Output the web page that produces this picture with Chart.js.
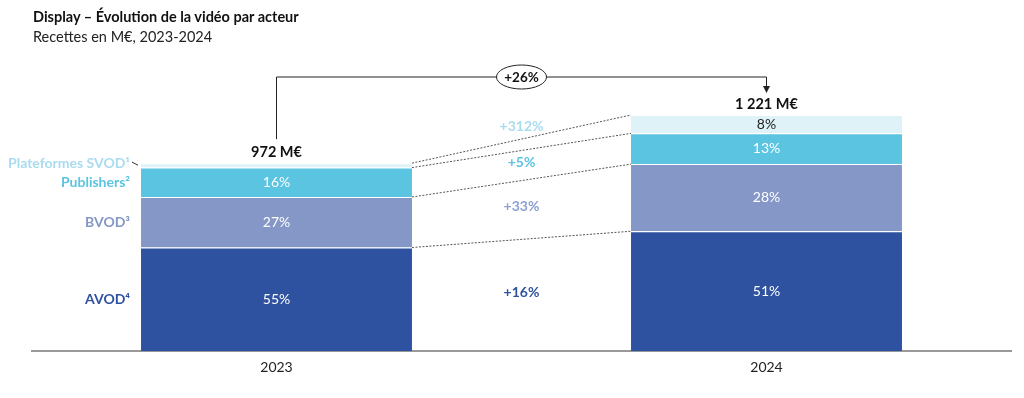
<!DOCTYPE html>
<html lang="fr">
<head>
    <meta charset="UTF-8">
    <title>Display – Évolution de la vidéo par acteur</title>
    <script src="https://cdn.jsdelivr.net/npm/chart.js"></script>
    <style>
        body { margin: 0; background: #fff; font-family: Lato, sans-serif; }
        #wrap { position: relative; width: 1024px; height: 398px; }
        #title { position: absolute; left: 33px; top: 8px; font-size: 14.5px; font-weight: bold; color: #111; }
        #subtitle { position: absolute; left: 33px; top: 28px; font-size: 14.5px; color: #222; }
        #chart { position: absolute; left: 0; top: 0; }
    </style>
</head>
<body>
<div id="wrap">
    <canvas id="chart" width="1024" height="398"></canvas>
    <div id="title">Display – Évolution de la vidéo par acteur</div>
    <div id="subtitle">Recettes en M€, 2023-2024</div>
</div>
<script>
    // data (M€)
    const years = ['2023', '2024'];
    const avod = [536, 620];
    const bvod = [261, 347];
    const publishers = [152, 159];
    const svod = [23, 95];
    const seriesNames = ['AVOD⁴', 'BVOD³', 'Publishers²', 'Plateformes SVOD¹'];
    const growthLabels = ['+16%', '+33%', '+5%', '+312%'];

    const segColors = ['#2E52A0', '#8597C7', '#5BC4E1', '#DFF2F8'];
    const nameColors = ['#2E52A0', '#8597C7', '#5BC4E1', '#A9DCEE'];
    const growthColors = ['#2E52A0', '#8EA0D4', '#5BC4E1', '#A9DCEE'];

    const totals = years.map((y, i) => avod[i] + bvod[i] + publishers[i] + svod[i]);
    const fmt = v => String(Math.round(v)).replace(/\B(?=(\d{3})+(?!\d))/g, ' ');

    const annotations = {
        id: 'annotations',
        afterDatasetsDraw(chart) {
            const ctx = chart.ctx;
            const metas = chart.data.datasets.map((d, i) => chart.getDatasetMeta(i));
            const F = 'Lato, sans-serif';
            ctx.save();
            ctx.textAlign = 'center';
            ctx.textBaseline = 'middle';

            // segment shares
            metas.forEach((meta, i) => {
                meta.data.forEach((bar, j) => {
                    const h = bar.base - bar.y;
                    if (h < 12) return;
                    const v = chart.data.datasets[i].data[j];
                    ctx.font = '14px ' + F;
                    ctx.fillStyle = i === 3 ? '#222' : '#fff';
                    ctx.fillText(Math.round(v / totals[j] * 100) + '%', bar.x, (bar.y + bar.base) / 2);
                });
            });

            // dotted connectors and growth labels
            metas.forEach((meta, i) => {
                const b0 = meta.data[0], b1 = meta.data[1];
                const x0 = b0.x + b0.width / 2, x1 = b1.x - b1.width / 2;
                ctx.beginPath();
                ctx.setLineDash([2, 1.5]);
                ctx.strokeStyle = '#555';
                ctx.lineWidth = 1;
                ctx.moveTo(x0, b0.y);
                ctx.lineTo(x1, b1.y);
                ctx.stroke();
                ctx.setLineDash([]);

                let gy = ((b0.y + b0.base) / 2 + (b1.y + b1.base) / 2) / 2 - 3;
                if (i === 3) gy = (b0.y + b1.y) / 2 - 13;
                ctx.font = 'bold 14px ' + F;
                ctx.fillStyle = growthColors[i];
                ctx.fillText(growthLabels[i], (x0 + x1) / 2, gy);

                // series names at the left of the first bar
                ctx.textAlign = 'right';
                ctx.fillStyle = nameColors[i];
                const ny = i === 3 ? b0.y : (b0.y + b0.base) / 2;
                ctx.fillText(seriesNames[i], b0.x - b0.width / 2 - 11, ny);
                ctx.textAlign = 'center';
                if (i === 3) {
                    ctx.beginPath();
                    ctx.strokeStyle = '#333';
                    ctx.moveTo(b0.x - b0.width / 2 - 9, b0.y - 1);
                    ctx.lineTo(b0.x - b0.width / 2 - 3, b0.y + 2);
                    ctx.stroke();
                }
            });

            // totals
            const top = metas[3].data;
            ctx.font = 'bold 14.5px ' + F;
            ctx.fillStyle = '#111';
            top.forEach((bar, j) => ctx.fillText(fmt(totals[j]) + ' M€', bar.x, bar.y - 11));

            // bracket with total growth
            const yb = 77;
            ctx.beginPath();
            ctx.strokeStyle = '#222';
            ctx.lineWidth = 1;
            ctx.moveTo(top[0].x, top[0].y - 24);
            ctx.lineTo(top[0].x, yb);
            ctx.lineTo(top[1].x, yb);
            ctx.lineTo(top[1].x, top[1].y - 28);
            ctx.stroke();
            ctx.beginPath();
            ctx.fillStyle = '#222';
            ctx.moveTo(top[1].x - 3.5, top[1].y - 29);
            ctx.lineTo(top[1].x + 3.5, top[1].y - 29);
            ctx.lineTo(top[1].x, top[1].y - 22);
            ctx.closePath();
            ctx.fill();

            const mx = (top[0].x + top[1].x) / 2;
            ctx.beginPath();
            ctx.ellipse(mx, yb, 25, 12, 0, 0, Math.PI * 2);
            ctx.fillStyle = '#fff';
            ctx.fill();
            ctx.stroke();
            ctx.font = 'bold 13.5px ' + F;
            ctx.fillStyle = '#111';
            ctx.fillText('+' + Math.round((totals[1] / totals[0] - 1) * 100) + '%', mx, yb + 1);
            ctx.restore();
        }
    };

    const mk = (label, data, i) => ({
        label: label,
        data: data,
        backgroundColor: segColors[i],
        borderColor: '#fff',
        borderWidth: { top: 1 },
        borderSkipped: false,
        barPercentage: 0.553,
        categoryPercentage: 1
    });

    new Chart(document.getElementById('chart'), {
        type: 'bar',
        data: {
            labels: years,
            datasets: [
                mk('AVOD', avod, 0),
                mk('BVOD', bvod, 1),
                mk('Publishers', publishers, 2),
                mk('Plateformes SVOD', svod, 3)
            ]
        },
        options: {
            responsive: false,
            animation: false,
            layout: { padding: { left: 31.5, right: 12.5, top: 61, bottom: 14 } },
            plugins: { legend: { display: false }, tooltip: { enabled: false } },
            scales: {
                x: {
                    stacked: true,
                    grid: { display: false, drawTicks: false },
                    border: { display: true, color: '#999', width: 2 },
                    ticks: { color: '#222', font: { family: 'Lato', size: 14 }, padding: 8 }
                },
                y: {
                    stacked: true,
                    display: false,
                    min: 0,
                    max: 1500
                }
            }
        },
        plugins: [annotations]
    });
</script>
</body>
</html>
